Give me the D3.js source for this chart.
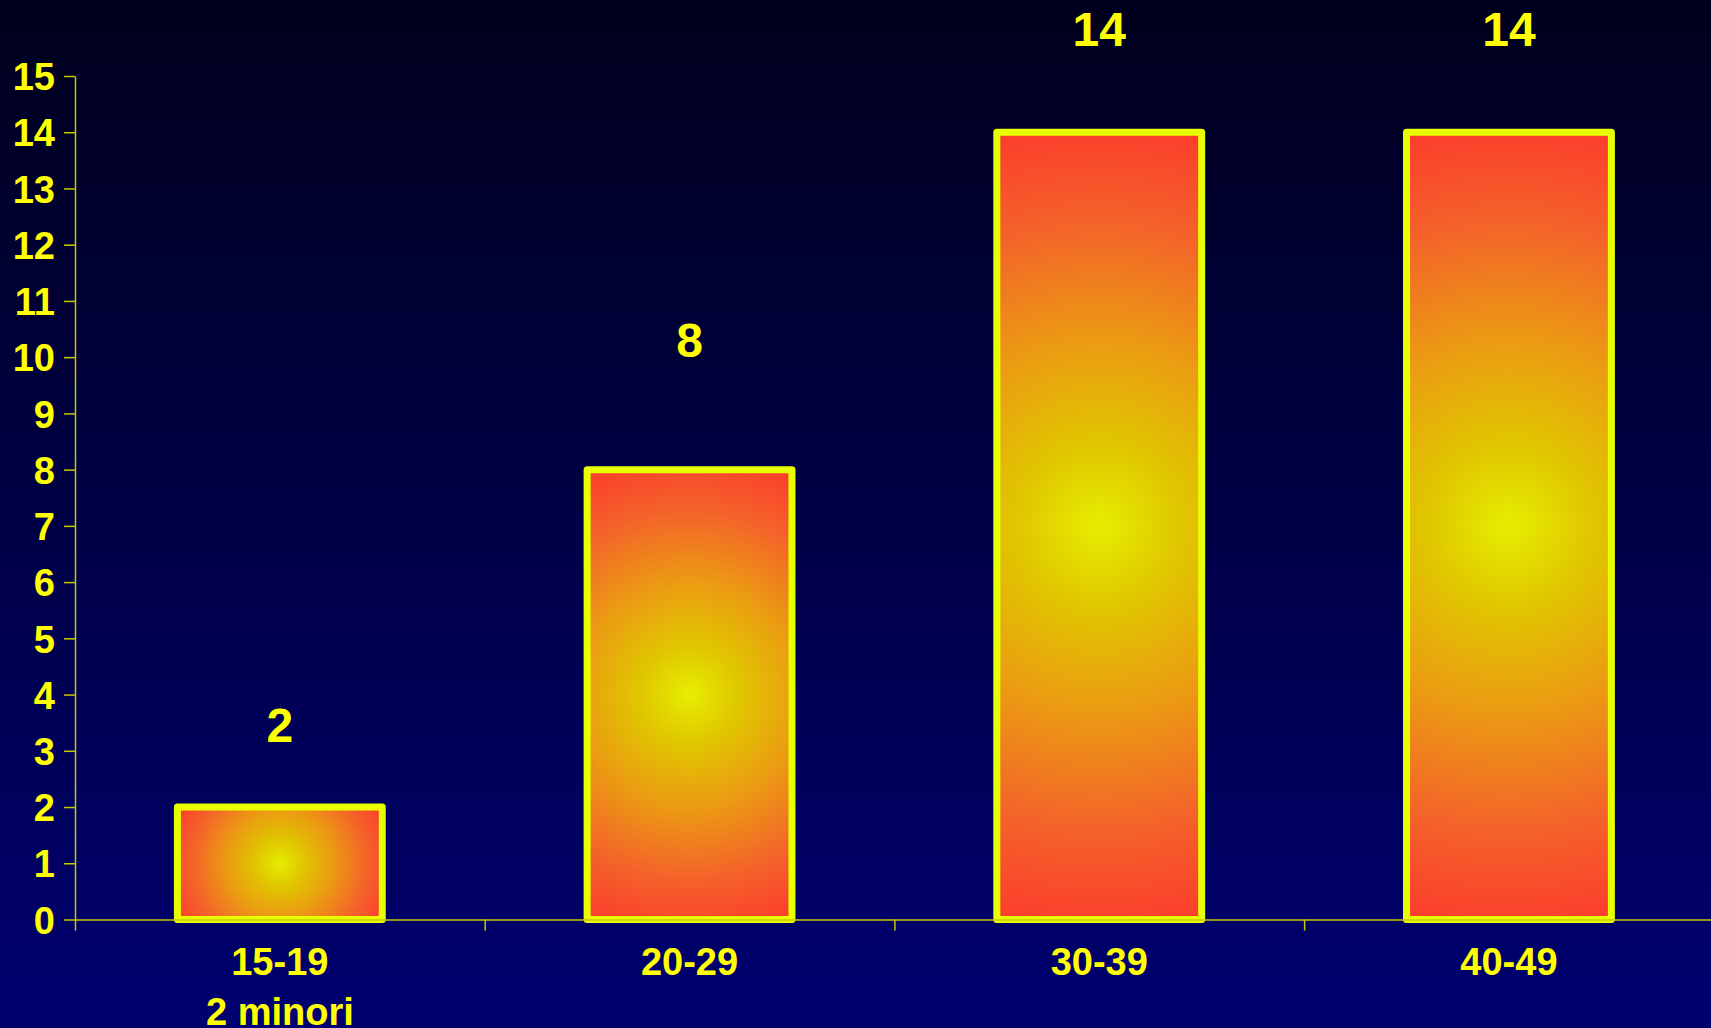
<!DOCTYPE html>
<html>
<head>
<meta charset="utf-8">
<script src="https://cdn.jsdelivr.net/npm/d3@7"></script>
<style>
  html, body { margin: 0; padding: 0; overflow: hidden; background: #000040; }
  svg { display: block; }
  text { font-family: "Liberation Sans", Arial, sans-serif; font-weight: bold; }
</style>
</head>
<body>
<svg id="chart" width="1711" height="1028"></svg>
<script>
// ---- data ----
const categories = ["15-19", "20-29", "30-39", "40-49"];
const categorySub = ["2 minori", "", "", ""];
const values = [2, 8, 14, 14];
const yTicks = [0, 1, 2, 3, 4, 5, 6, 7, 8, 9, 10, 11, 12, 13, 14, 15];

// ---- layout ----
const W = 1711, H = 1028;
const x0 = 75, x1 = 1713.8, yBottom = 919.5, yTop = 76;
const labelLevel = [3.16, 10.01, 15.54, 15.54]; // value-label baselines, in axis units

const svg = d3.select("#chart");
const defs = svg.append("defs");

const bg = defs.append("linearGradient").attr("id", "bg")
  .attr("x1", 0).attr("y1", 0).attr("x2", 0).attr("y2", 1);
bg.append("stop").attr("offset", 0).attr("stop-color", "#00001c");
bg.append("stop").attr("offset", 1).attr("stop-color", "#000070");
svg.append("rect").attr("width", W).attr("height", H).attr("fill", "url(#bg)");

const y = d3.scaleLinear().domain([0, 15]).range([yBottom, yTop]);
const x = d3.scaleBand().domain(categories).range([x0, x1])
  .paddingInner(0.5).paddingOuter(0.25);
const xi = d3.scaleLinear().domain([0, categories.length]).range([x0, x1]);

// bars
categories.forEach((c, i) => {
  const bx = x(c), bw = x.bandwidth();
  const by = y(values[i]), bh = y(0) - y(values[i]);
  const cx = bx + bw / 2, cy = by + bh / 2;
  const r = Math.sqrt((bw / 2) ** 2 + (bh / 2) ** 2);
  const g = defs.append("radialGradient").attr("id", "bar" + i)
    .attr("gradientUnits", "userSpaceOnUse")
    .attr("cx", cx).attr("cy", cy).attr("r", r);
  [[0, "#e6ee00"], [0.2, "#e0c600"], [0.45, "#eb9c12"], [0.75, "#f4622a"], [1, "#fc3c2c"]]
    .forEach(([o, col]) => g.append("stop").attr("offset", o).attr("stop-color", col));
});

svg.append("g").selectAll("rect").data(categories).join("rect")
  .attr("x", d => x(d))
  .attr("y", (d, i) => y(values[i]))
  .attr("width", x.bandwidth())
  .attr("height", (d, i) => y(0) - y(values[i]))
  .attr("fill", (d, i) => `url(#bar${i})`)
  .attr("stroke", "#e8ff00")
  .attr("stroke-width", 7)
  .attr("stroke-linejoin", "round");

// y axis
const yAxis = svg.append("g").attr("transform", `translate(${x0},0)`)
  .call(d3.axisLeft(y).tickValues(yTicks).tickFormat(d3.format("d"))
    .tickSizeInner(11).tickSizeOuter(0).tickPadding(9));
yAxis.select(".domain").attr("stroke", "#c8c800").attr("stroke-width", 1.5);
yAxis.selectAll(".tick line").attr("stroke", "#c8c800").attr("stroke-width", 1.5);
yAxis.selectAll(".tick text").attr("fill", "#ffff00").style("font-size", "38px")
  .attr("dy", "0.36em");

// x axis (boundary ticks)
const xAxis = svg.append("g").attr("transform", `translate(0,${yBottom})`)
  .call(d3.axisBottom(xi).tickValues(d3.range(categories.length + 1))
    .tickFormat("").tickSizeInner(11).tickSizeOuter(0));
xAxis.select(".domain").attr("stroke", "#c8c800").attr("stroke-width", 1.5);
xAxis.selectAll(".tick line").attr("stroke", "#c8c800").attr("stroke-width", 1.5);

// category labels
const catG = svg.append("g");
catG.selectAll("text.cat").data(categories).join("text").attr("class", "cat")
  .attr("x", d => x(d) + x.bandwidth() / 2)
  .attr("y", 974.5)
  .attr("text-anchor", "middle")
  .attr("fill", "#ffff00").style("font-size", "38px")
  .text(d => d);
catG.selectAll("text.sub").data(categories).join("text").attr("class", "sub")
  .attr("x", d => x(d) + x.bandwidth() / 2)
  .attr("y", 1025)
  .attr("text-anchor", "middle")
  .attr("fill", "#ffff00").style("font-size", "38px")
  .text((d, i) => categorySub[i]);

// value labels
svg.append("g").selectAll("text").data(categories).join("text")
  .attr("x", d => x(d) + x.bandwidth() / 2)
  .attr("y", (d, i) => y(labelLevel[i]))
  .attr("text-anchor", "middle")
  .attr("fill", "#ffff00").style("font-size", "48px")
  .text((d, i) => values[i]);
</script>
</body>
</html>
